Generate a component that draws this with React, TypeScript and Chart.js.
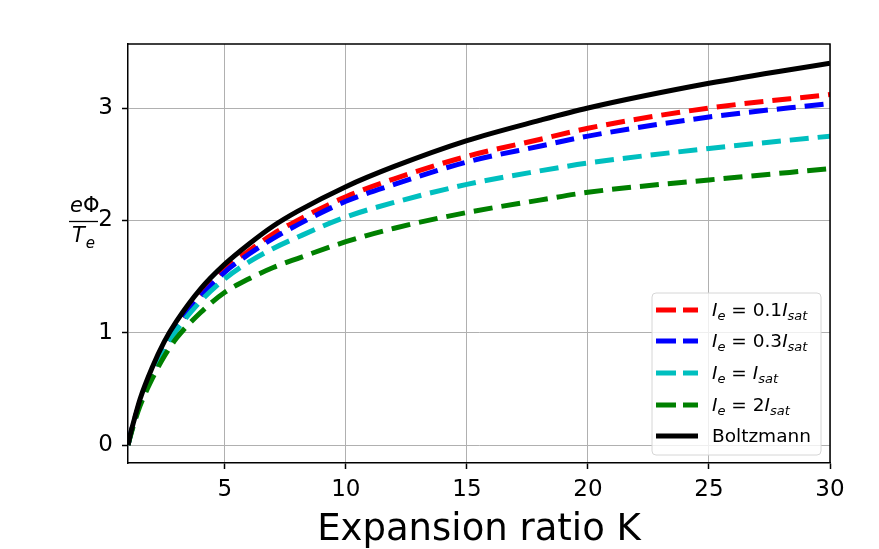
import React, { useEffect, useRef } from "react";
import { Chart, registerables } from "chart.js";

Chart.register(...registerables);

// ---- data ----
const K = [1, 1.1, 1.25, 1.5, 2, 2.5, 3, 4, 5, 6, 7, 8, 10, 12, 15, 18, 20, 25, 30];
const BOLTZMANN = [0, 0.1, 0.22, 0.41, 0.69, 0.92, 1.1, 1.39, 1.61, 1.79, 1.95, 2.08, 2.3, 2.48, 2.71, 2.89, 3.0, 3.22, 3.4];
const IE_01 = [0, 0.09, 0.21, 0.39, 0.66, 0.88, 1.05, 1.34, 1.57, 1.73, 1.88, 2.0, 2.21, 2.37, 2.57, 2.72, 2.82, 3.0, 3.12];
const IE_03 = [0, 0.09, 0.21, 0.38, 0.65, 0.87, 1.04, 1.32, 1.54, 1.7, 1.84, 1.96, 2.17, 2.32, 2.52, 2.66, 2.75, 2.92, 3.04];
const IE_1 = [0, 0.09, 0.2, 0.38, 0.64, 0.85, 1.02, 1.28, 1.48, 1.63, 1.75, 1.85, 2.03, 2.16, 2.32, 2.44, 2.51, 2.64, 2.75];
const IE_2 = [0, 0.08, 0.19, 0.35, 0.59, 0.79, 0.95, 1.18, 1.36, 1.48, 1.58, 1.66, 1.81, 1.93, 2.07, 2.18, 2.25, 2.36, 2.46];

const X_TICKS = [5, 10, 15, 20, 25, 30];
const Y_TICKS = [0, 1, 2, 3];
const X_TITLE = "Expansion ratio K";
const SERIES_LABELS = ["I_e = 0.1 I_sat", "I_e = 0.3 I_sat", "I_e = I_sat", "I_e = 2 I_sat", "Boltzmann"];

type Seg = { t: string; it?: boolean; sub?: boolean };
const LEGEND_TEXT: Seg[][] = [
  [{ t: "I", it: true }, { t: "e", it: true, sub: true }, { t: " = 0.1" }, { t: "I", it: true }, { t: "sat", it: true, sub: true }],
  [{ t: "I", it: true }, { t: "e", it: true, sub: true }, { t: " = 0.3" }, { t: "I", it: true }, { t: "sat", it: true, sub: true }],
  [{ t: "I", it: true }, { t: "e", it: true, sub: true }, { t: " = " }, { t: "I", it: true }, { t: "sat", it: true, sub: true }],
  [{ t: "I", it: true }, { t: "e", it: true, sub: true }, { t: " = 2" }, { t: "I", it: true }, { t: "sat", it: true, sub: true }],
  [{ t: "Boltzmann" }],
];

const COLORS = ["#ff0000", "#0000ff", "#00bfbf", "#008000", "#000000"];
const DASHED = [true, true, true, true, false];
const SERIES = [IE_01, IE_03, IE_1, IE_2, BOLTZMANN];

const FONT = "'DejaVu Sans', sans-serif";
const DASH = [19, 9];
const LW = 5;

function drawRich(ctx: CanvasRenderingContext2D, x: number, y: number, segs: Seg[], size: number) {
  let cx = x;
  for (const s of segs) {
    const fs = s.sub ? Math.round(size * 0.72) : size;
    ctx.font = `${s.it ? "italic " : ""}${fs}px ${FONT}`;
    ctx.fillText(s.t, cx, s.sub ? y + size * 0.22 : y);
    cx += ctx.measureText(s.t).width;
  }
}

const decor = {
  id: "decor",
  afterDraw(chart: any) {
    const { ctx, chartArea: a } = chart;
    ctx.save();
    // top and right spines
    ctx.strokeStyle = "#000";
    ctx.lineWidth = 1.5;
    ctx.beginPath();
    ctx.moveTo(a.left, a.top);
    ctx.lineTo(a.right, a.top);
    ctx.lineTo(a.right, a.bottom);
    ctx.stroke();

    // y label: eΦ / T_e
    ctx.fillStyle = "#000";
    ctx.textBaseline = "alphabetic";
    ctx.textAlign = "left";
    ctx.font = `italic 21px ${FONT}`;
    ctx.fillText("e", 70, 212);
    const ew = ctx.measureText("e").width;
    ctx.font = `21px ${FONT}`;
    ctx.fillText("Φ", 70 + ew, 212);
    ctx.lineWidth = 1.3;
    ctx.beginPath();
    ctx.moveTo(69, 221.5);
    ctx.lineTo(98, 221.5);
    ctx.stroke();
    ctx.font = `italic 21px ${FONT}`;
    ctx.fillText("T", 72, 242);
    const tw = ctx.measureText("T").width;
    ctx.font = `italic 15px ${FONT}`;
    ctx.fillText("e", 72 + tw + 1, 248);

    // legend
    const bx = a.right - 178, by = a.bottom - 170, bw = 169, bh = 162;
    ctx.beginPath();
    ctx.roundRect(bx, by, bw, bh, 4);
    ctx.fillStyle = "rgba(255,255,255,0.8)";
    ctx.fill();
    ctx.strokeStyle = "#d6d6d6";
    ctx.lineWidth = 1;
    ctx.stroke();
    const rows = [17, 48, 80, 112, 143];
    for (let i = 0; i < 5; i++) {
      const ry = by + rows[i];
      ctx.strokeStyle = COLORS[i];
      ctx.lineWidth = 5;
      ctx.lineCap = "butt";
      ctx.setLineDash(DASHED[i] ? [20, 7] : []);
      ctx.beginPath();
      ctx.moveTo(bx + 4, ry);
      ctx.lineTo(bx + 46, ry);
      ctx.stroke();
      ctx.setLineDash([]);
      ctx.fillStyle = "#000";
      drawRich(ctx, bx + 60, ry + 6, LEGEND_TEXT[i], 18.5);
    }
    ctx.restore();
  },
};

export default function App() {
  const ref = useRef<HTMLCanvasElement>(null);
  useEffect(() => {
    if (!ref.current) return;
    const datasets = SERIES.map((vals, i) => ({
      label: SERIES_LABELS[i],
      data: K.map((k, j) => ({ x: k, y: vals[j] })),
      borderColor: COLORS[i],
      backgroundColor: COLORS[i],
      borderWidth: LW,
      borderDash: DASHED[i] ? DASH : [],
      borderCapStyle: "butt" as const,
      pointRadius: 0,
      cubicInterpolationMode: "monotone" as const,
      fill: false,
      order: 4 - i,
    }));
    const chart = new Chart(ref.current, {
      type: "line",
      data: { datasets },
      plugins: [decor],
      options: {
        animation: false,
        responsive: false,
        events: [],
        layout: { padding: { left: 0, top: 44, right: 49, bottom: 0 } },
        plugins: { legend: { display: false }, tooltip: { enabled: false } },
        scales: {
          x: {
            type: "linear",
            min: 1,
            max: 30,
            afterBuildTicks: (s: any) => {
              s.ticks = X_TICKS.map((v) => ({ value: v }));
            },
            afterFit: (s: any) => {
              s.height = 86;
            },
            grid: { color: "#b0b0b0", lineWidth: 1, tickColor: "#000", tickLength: 6, tickWidth: 1.5 },
            border: { display: true, color: "#000", width: 1.5 },
            ticks: { color: "#000", font: { family: FONT, size: 23 }, padding: 7, maxRotation: 0, autoSkip: false },
            title: {
              display: true,
              text: X_TITLE,
              color: "#000",
              font: { family: FONT, size: 37, lineHeight: 1 },
              padding: { top: 0, bottom: 0 },
            },
          },
          y: {
            type: "linear",
            min: -0.16,
            max: 3.57,
            afterBuildTicks: (s: any) => {
              s.ticks = Y_TICKS.map((v) => ({ value: v }));
            },
            afterFit: (s: any) => {
              s.width = 128;
            },
            grid: { color: "#b0b0b0", lineWidth: 1, tickColor: "#000", tickLength: 6, tickWidth: 1.5 },
            border: { display: true, color: "#000", width: 1.5 },
            ticks: { color: "#000", font: { family: FONT, size: 23 }, padding: 9 },
          },
        },
      },
    });
    return () => chart.destroy();
  }, []);
  return (
    <div style={{ position: "absolute", left: 0, top: 0, width: 879, height: 549, background: "#fff" }}>
      <canvas ref={ref} width={879} height={549} style={{ display: "block" }} />
    </div>
  );
}
